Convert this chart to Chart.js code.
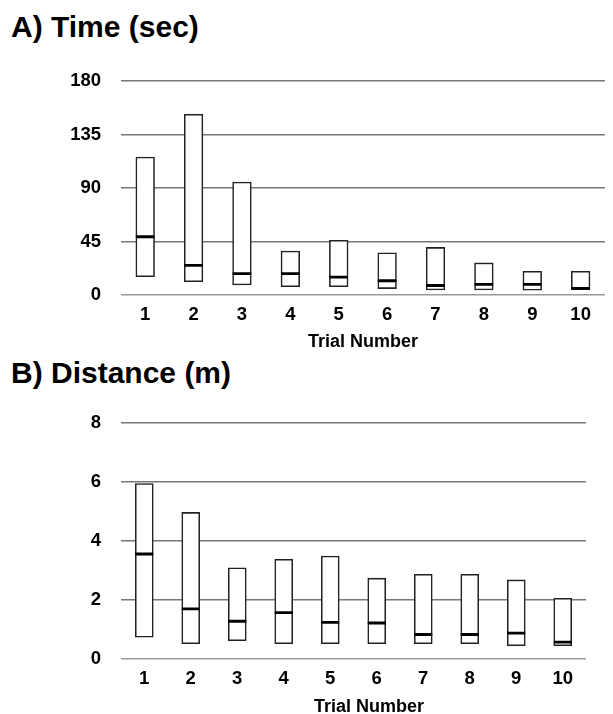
<!DOCTYPE html>
<html>
<head>
<meta charset="utf-8">
<script src="https://cdn.jsdelivr.net/npm/chart.js@4"></script>
<style>
  html, body { margin:0; padding:0; background:#fff; overflow:hidden; width:613px; height:714px; }
  body { position:relative; font-family:'Liberation Sans', Arial, Helvetica, sans-serif; color:#000; }
  .panel-title { position:absolute; left:11px; font-size:30px; line-height:30px; font-weight:bold; white-space:nowrap; }
  .box { position:absolute; left:0; }
  .xtitle { position:absolute; font-size:18px; line-height:21.6px; font-weight:bold; white-space:nowrap; transform:translateX(-50%); }
</style>
</head>
<body>
<div class="panel-title" style="top:12px;">A) Time (sec)</div>
<div class="box" style="top:0; width:617px; height:356px;"><canvas id="chartA"></canvas></div>
<div class="panel-title" style="top:358px;">B) Distance (m)</div>
<div class="box" style="top:350px; width:613px; height:364px;"><canvas id="chartB"></canvas></div>
<div class="xtitle" style="left:369px; top:696px;">Trial Number</div>
<script>
// ---- Data ----
const trials = ['1','2','3','4','5','6','7','8','9','10'];

// A) Time (sec)
const timeMin    = [15.4, 11.2, 8.4, 7.0, 7.0, 5.4, 4.2, 4.2, 4.0, 4.5];
const timeMax    = [116, 152, 95, 37, 46, 35.5, 40, 27, 20, 20];
const timeMedian = [49, 25, 18, 18, 15, 12, 8, 9, 9, 5.5];
const timeTicks  = [0, 45, 90, 135, 180];

// B) Distance (m)
const distMin    = [0.74, 0.52, 0.62, 0.52, 0.52, 0.52, 0.52, 0.52, 0.45, 0.45];
const distMax    = [5.95, 4.97, 3.09, 3.38, 3.49, 2.74, 2.87, 2.87, 2.68, 2.06];
const distMedian = [3.56, 1.70, 1.28, 1.57, 1.24, 1.22, 0.83, 0.83, 0.88, 0.57];
const distTicks  = [0, 2, 4, 6, 8];

Chart.defaults.font.family = "'Liberation Sans', Arial, Helvetica, sans-serif";
Chart.defaults.color = '#000';

function makeChart(id, mins, maxs, meds, ticks, opts) {
  const ranges = mins.map((m, i) => [m, maxs[i]]);
  return new Chart(document.getElementById(id), {
    data: {
      labels: trials,
      datasets: [
        {
          type: 'bar',
          data: ranges,
          backgroundColor: '#ffffff',
          borderColor: '#222222',
          borderWidth: 1.6,
          borderSkipped: false,
          barThickness: opts.barW,
          order: 2
        },
        {
          type: 'line',
          data: meds,
          showLine: false,
          pointStyle: 'line',
          pointRadius: opts.barW / 2,
          pointHoverRadius: opts.barW / 2,
          pointBorderWidth: 2.8,
          pointHoverBorderWidth: 2.8,
          borderColor: '#000000',
          backgroundColor: '#000000',
          order: 1
        }
      ]
    },
    options: {
      responsive: true,
      maintainAspectRatio: false,
      animation: false,
      events: [],
      layout: { padding: { top: opts.padTop, left: 0, right: opts.padRight, bottom: 0 } },
      plugins: { legend: { display: false }, tooltip: { enabled: false }, title: { display: false } },
      scales: {
        x: {
          type: 'category',
          offset: true,
          grid: { display: false, drawTicks: false },
          border: { display: false },
          ticks: { padding: 9, font: { size: 18.5, weight: 'bold' }, color: '#000', autoSkip: false, maxRotation: 0 },
          title: {
            display: opts.showXTitle,
            text: 'Trial Number',
            font: { size: 18, weight: 'bold' },
            color: '#000',
            padding: { top: 0, bottom: opts.titlePadBottom }
          },
          afterFit: (s) => { s.height = opts.xHeight; }
        },
        y: {
          min: ticks[0],
          max: ticks[ticks.length - 1],
          afterBuildTicks: (s) => { s.ticks = ticks.map(v => ({ value: v })); },
          grid: {
            drawTicks: false,
            color: (c) => (c.tick && c.tick.value === 0) ? '#9a9a9a' : '#777777',
            lineWidth: 1.6
          },
          border: { display: false },
          ticks: { padding: 20, font: { size: 18.5, weight: 'bold' }, color: '#000' },
          afterFit: (s) => { s.width = 121; }
        }
      }
    }
  });
}

makeChart('chartA', timeMin, timeMax, timeMedian, timeTicks,
  { barW: 18.7, padTop: 81, padRight: 0, xHeight: 61, showXTitle: true, titlePadBottom: 3.5 });
makeChart('chartB', distMin, distMax, distMedian, distTicks,
  { barW: 18, padTop: 73, padRight: 27, xHeight: 55, showXTitle: false, titlePadBottom: 0 });
</script>
</body>
</html>
